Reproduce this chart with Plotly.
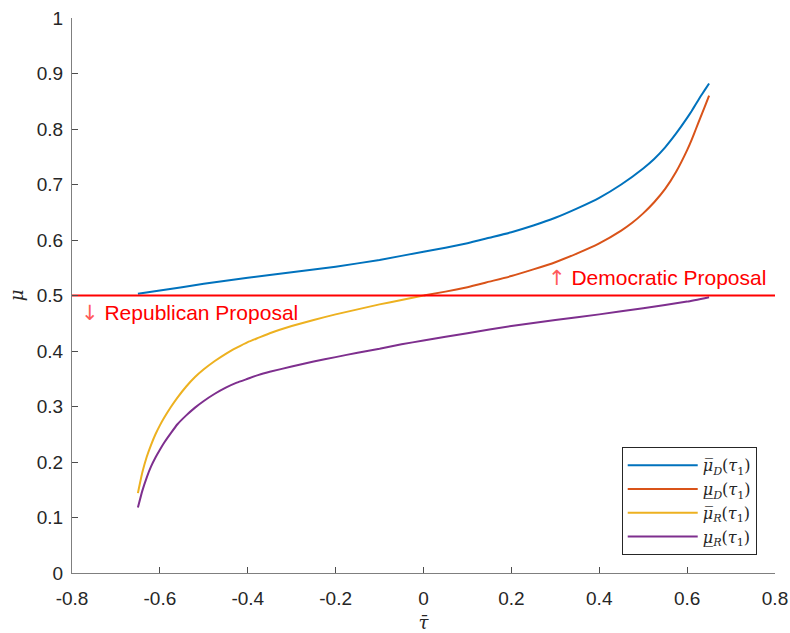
import plotly.graph_objects as go

# ---- data ----
x_blue = [-0.65, -0.60, -0.50, -0.40, -0.30, -0.20, -0.10, 0.00, 0.05, 0.10, 0.15, 0.20, 0.25, 0.30, 0.35,
          0.40, 0.45, 0.50, 0.525, 0.55, 0.575, 0.60, 0.61, 0.62, 0.63, 0.64, 0.65]
y_blue = [0.503, 0.509, 0.521, 0.532, 0.542, 0.552, 0.564, 0.579, 0.586, 0.594, 0.604, 0.614, 0.626, 0.640, 0.657,
          0.676, 0.700, 0.729, 0.746, 0.767, 0.792, 0.820, 0.832, 0.845, 0.858, 0.870, 0.882]

x_orange = [0.00, 0.05, 0.10, 0.15, 0.20, 0.25, 0.30, 0.35, 0.40, 0.45, 0.475, 0.50, 0.525, 0.55, 0.575,
            0.60, 0.61, 0.62, 0.63, 0.64, 0.65]
y_orange = [0.500, 0.507, 0.515, 0.525, 0.535, 0.547, 0.560, 0.576, 0.594, 0.617, 0.631, 0.648, 0.668, 0.692, 0.723,
            0.762, 0.780, 0.800, 0.820, 0.840, 0.860]

x_yellow = [-0.65, -0.64, -0.63, -0.62, -0.61, -0.60, -0.59, -0.575, -0.56, -0.54, -0.52, -0.50, -0.475, -0.45,
            -0.425, -0.40, -0.375, -0.35, -0.30, -0.25, -0.20, -0.15, -0.10, -0.05, 0.00]
y_yellow = [0.144, 0.181, 0.209, 0.231, 0.250, 0.266, 0.280, 0.299, 0.316, 0.336, 0.353, 0.367, 0.382, 0.395,
            0.406, 0.416, 0.424, 0.432, 0.445, 0.456, 0.466, 0.475, 0.484, 0.492, 0.500]

x_purple = [-0.65, -0.64, -0.63, -0.62, -0.61, -0.60, -0.59, -0.575, -0.56, -0.54, -0.52, -0.50, -0.475, -0.45,
            -0.425, -0.40, -0.375, -0.35, -0.30, -0.25, -0.20, -0.15, -0.10, -0.05, 0.00, 0.10, 0.20, 0.30,
            0.40, 0.50, 0.60, 0.65]
y_purple = [0.118, 0.148, 0.172, 0.192, 0.208, 0.222, 0.235, 0.252, 0.268, 0.284, 0.298, 0.310, 0.323, 0.334,
            0.343, 0.350, 0.357, 0.3625, 0.372, 0.381, 0.389, 0.397, 0.404, 0.412, 0.419, 0.432, 0.445, 0.456,
            0.466, 0.477, 0.489, 0.497]

x_thresh = [-0.8, 0.8]
y_thresh = [0.5, 0.5]

names = [
    "<i>μ̅</i><sub><i>D</i></sub>(<i>τ</i><sub>1</sub>)",
    "<i>μ̲</i><sub><i>D</i></sub>(<i>τ</i><sub>1</sub>)",
    "<i>μ̅</i><sub><i>R</i></sub>(<i>τ</i><sub>1</sub>)",
    "<i>μ̲</i><sub><i>R</i></sub>(<i>τ</i><sub>1</sub>)",
]
colors = ["#0072BD", "#D95319", "#EDB120", "#7E2F8E"]

x_ticks = [-0.8, -0.6, -0.4, -0.2, 0, 0.2, 0.4, 0.6, 0.8]
x_ticklabels = ["-0.8", "-0.6", "-0.4", "-0.2", "0", "0.2", "0.4", "0.6", "0.8"]
y_ticks = [0, 0.1, 0.2, 0.3, 0.4, 0.5, 0.6, 0.7, 0.8, 0.9, 1]
y_ticklabels = ["0", "0.1", "0.2", "0.3", "0.4", "0.5", "0.6", "0.7", "0.8", "0.9", "1"]

fig = go.Figure()
for xs, ys, nm, c in zip([x_blue, x_orange, x_yellow, x_purple],
                         [y_blue, y_orange, y_yellow, y_purple], names, colors):
    fig.add_trace(go.Scatter(x=xs, y=ys, mode="lines", name=nm,
                             line=dict(color=c, width=2, shape="spline", smoothing=0.4)))

fig.add_trace(go.Scatter(x=x_thresh, y=y_thresh, mode="lines", showlegend=False,
                         line=dict(color="#FF0000", width=2)))

arrow_style = '<span style="font-family:DejaVu Sans;color:#ff5a5a">{}</span>'
fig.add_annotation(x=-0.785, y=0.468, text=arrow_style.format("↓") + " Republican Proposal",
                   showarrow=False, xanchor="left", yanchor="middle",
                   font=dict(family="Liberation Sans, Arial", size=21, color="#FF0000"))
fig.add_annotation(x=0.279, y=0.531, text=arrow_style.format("↑") + " Democratic Proposal",
                   showarrow=False, xanchor="left", yanchor="middle",
                   font=dict(family="Liberation Sans, Arial", size=21, color="#FF0000"))

axis_common = dict(showgrid=False, zeroline=False, showline=True, linecolor="#7f7f7f",
                   linewidth=1, ticks="inside", ticklen=6, tickcolor="#4d4d4d",
                   automargin=False,
                   tickfont=dict(family="Liberation Sans, Arial", size=19, color="#262626"))

fig.update_layout(
    width=790, height=633,
    margin=dict(l=72, r=15, t=18, b=60),
    paper_bgcolor="white", plot_bgcolor="white",
    xaxis=dict(range=[-0.8, 0.8], tickvals=x_ticks, ticktext=x_ticklabels,
               ticklabelstandoff=8,
               title=dict(text="<i>τ̄</i>", standoff=8,
                          font=dict(family="DejaVu Serif", size=18, color="#262626")),
               **axis_common),
    yaxis=dict(range=[0, 1], tickvals=y_ticks, ticktext=y_ticklabels,
               ticklabelstandoff=4,
               title=dict(text="<i>μ</i>", standoff=8,
                          font=dict(family="DejaVu Serif", size=18, color="#262626")),
               **axis_common),
    legend=dict(x=0.974, y=0.032, xanchor="right", yanchor="bottom",
                bgcolor="white", bordercolor="#262626", borderwidth=1,
                font=dict(family="DejaVu Serif", size=16, color="#262626"),
                tracegroupgap=0, itemwidth=70),
    showlegend=True,
)

fig.write_html("out.html")
